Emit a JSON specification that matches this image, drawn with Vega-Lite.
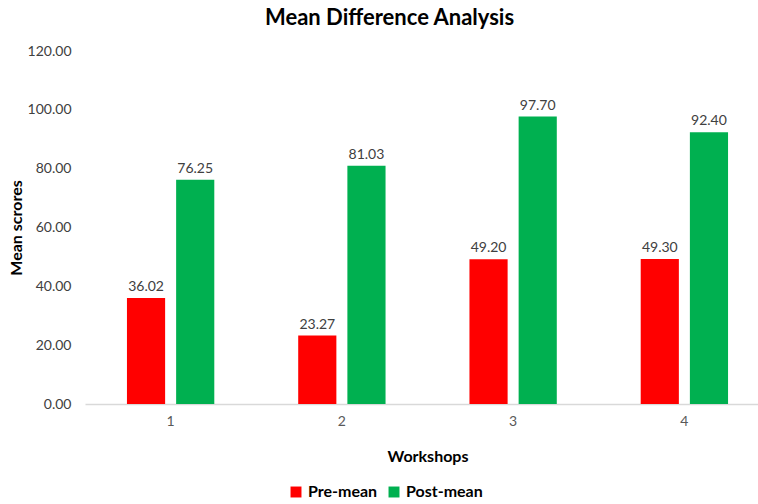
{
  "$schema": "https://vega.github.io/schema/vega-lite/v6.json",
  "autosize": {"type": "none"},
  "width": 673,
  "height": 353,
  "padding": {"left": 85, "top": 51, "right": 0, "bottom": 100},
  "background": "white",
  "config": {"view": {"stroke": null}, "font": "Lato"},
  "title": {
    "text": "Mean Difference Analysis",
    "fontSize": 22,
    "fontWeight": "bold",
    "font": "Lato",
    "color": "#000000",
    "anchor": "start",
    "frame": "group",
    "dx": 180,
    "offset": 14
  },
  "data": {
    "values": [
      {"workshop": "1", "series": "Pre-mean", "value": 36.02},
      {"workshop": "1", "series": "Post-mean", "value": 76.25},
      {"workshop": "2", "series": "Pre-mean", "value": 23.27},
      {"workshop": "2", "series": "Post-mean", "value": 81.03},
      {"workshop": "3", "series": "Pre-mean", "value": 49.2},
      {"workshop": "3", "series": "Post-mean", "value": 97.7},
      {"workshop": "4", "series": "Pre-mean", "value": 49.3},
      {"workshop": "4", "series": "Post-mean", "value": 92.4}
    ]
  },
  "encoding": {
    "x": {
      "field": "workshop",
      "type": "nominal",
      "scale": {"range": [0, 685], "paddingInner": 0.49, "paddingOuter": 0.245},
      "axis": {
        "title": "Workshops",
        "titleFontSize": 16,
        "titleFontWeight": "bold",
        "titleColor": "#000000",
        "titlePadding": 20,
        "labelAngle": 0,
        "labelFontSize": 14,
        "labelColor": "#595959",
        "labelPadding": 10,
        "ticks": false,
        "domainColor": "#d9d9d9",
        "domainWidth": 1.3,
        "grid": false
      }
    },
    "xOffset": {
      "field": "series",
      "type": "nominal",
      "sort": ["Pre-mean", "Post-mean"],
      "scale": {"paddingInner": 0.224, "paddingOuter": 0}
    },
    "y": {
      "field": "value",
      "type": "quantitative",
      "scale": {"domain": [0, 120], "nice": false},
      "axis": {
        "title": "Mean scrores",
        "titleFontSize": 16,
        "titleFontWeight": "bold",
        "titleColor": "#000000",
        "titlePadding": 3,
        "values": [0, 20, 40, 60, 80, 100, 120],
        "format": ".2f",
        "labelFontSize": 14,
        "labelColor": "#404040",
        "labelPadding": 14,
        "ticks": false,
        "domain": false,
        "grid": false
      }
    }
  },
  "layer": [
    {
      "mark": {"type": "bar"},
      "encoding": {
        "color": {
          "field": "series",
          "type": "nominal",
          "sort": ["Pre-mean", "Post-mean"],
          "scale": {"domain": ["Pre-mean", "Post-mean"], "range": ["#ff0000", "#00b050"]},
          "legend": {
            "title": null,
            "orient": "none",
            "direction": "horizontal",
            "legendX": 203,
            "legendY": 433,
            "symbolType": "square",
            "symbolSize": 120,
            "symbolStrokeWidth": 0,
            "labelFontSize": 16,
            "labelFontWeight": "bold",
            "labelColor": "#000000",
            "columnPadding": 8,
            "labelOffset": 4
          }
        }
      }
    },
    {
      "mark": {"type": "text", "dy": -11, "fontSize": 14, "color": "#404040"},
      "encoding": {
        "text": {"field": "value", "type": "quantitative", "format": ".2f"}
      }
    }
  ]
}
